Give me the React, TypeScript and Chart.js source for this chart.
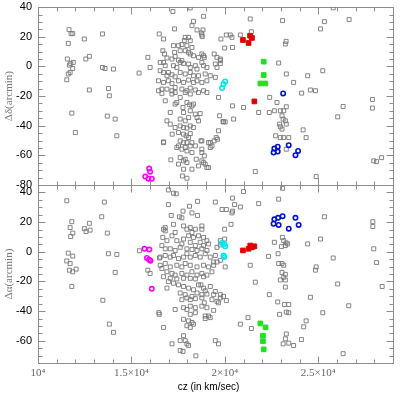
import React, { useEffect, useRef } from 'react';
import { Chart, registerables } from 'chart.js';

Chart.register(...registerables);

// ---- axis ticks / labels ----
const xTickValues = [10000, 15000, 20000, 25000];
const xTickLabels = ['10⁴', '1.5×10⁴', '2×10⁴', '2.5×10⁴'];
const topYTicks = [-80, -60, -40, -20, 0, 20, 40];
const bottomYTicks = [-60, -40, -20, 0, 20, 40];
const xTitle = 'cz (in km/sec)';

// ---- top panel (Δδ) ----
const topGray: [number, number][] = [
  [11660,24.8],[11770,22.1],[11860,22.1],[11620,15.5],[12480,18.5],[13450,21.9],[11570,5],[12560,5],[12750,6.8],[11750,2],[11890,2.7],[11680,0.9],[11860,-1.4],[11720,-4.1],[11620,-5.1],[11540,-9],[12750,-15.9],[13450,-0.7],[13590,-1.4],[14040,-1.8],[13770,-14.9],[13820,-19.8],[11810,-31.5],[12000,-44.6],[13710,-33.5],[14130,-35.5],[14220,-46.8],[15410,-4.5],[15880,6.1],[16000,-0.7],[16490,21.9],[16720,18.5],[17220,37],[17310,25.3],[18150,39.5],[16720,-50.9],[17110,-63],
  [18860,33.8],[18320,30.4],[18240,27.5],[18510,24.6],[18740,22.6],[18790,20.1],[17880,19.6],[18060,19.6],[17830,17.4],[18150,17.4],[19790,18.5],[17250,14],[17520,14],[17700,14.7],[17970,14],[18240,12.8],[16680,10.6],[16770,8.4],[17310,9.5],[17610,10.6],[17880,10.6],[18060,9.5],[18150,8.4],[18320,7.2],[18590,6.1],[18860,7.2],[19430,8.4],[19580,6.1],[19760,5],[16900,5.7],[17170,5],[17340,6.6],[17520,4.3],[17610,2.7],[17700,3.9],[17790,2],[16540,2.7],[16720,2.7],[16810,0.5],[17250,0.5],[17430,-0.7],[18060,1.6],[18150,-0.7],[18420,0.5],[18510,-1.8],[18770,2.7],[18860,0.5],[19040,-0.7],[19490,1.6],[19580,-0.7],[19760,2],
  [16540,-2.9],[16720,-4.1],[16980,-4.1],[16900,-6.3],[17170,-5.6],[17340,-7],[17610,-4.1],[17880,-5.1],[18150,-4.1],[18320,-6.3],[18590,-6.3],[18950,-5.1],[19220,-6.3],[19490,-7.4],[16450,-9.7],[16720,-10.8],[16980,-9.7],[17170,-11.5],[17520,-9.7],[17790,-10.8],[18060,-9.2],[18320,-10.8],[18510,-9.7],[18770,-10.8],[19040,-9.7],[16900,-15.3],[17170,-16.4],[17340,-14.2],[16450,-16.4],[16630,-15.3],[17700,-15.3],[17970,-16.4],[18150,-14.6],[18420,-15.9],[18590,-17.6],[18860,-16.4],[19040,-17.6],
  [16630,-18.2],[17170,-18.6],[17340,-17.6],[17880,-17.6],[18150,-18.6],[17610,-20.9],[19660,-20.9],[16810,-23.2],[17340,-25.4],[17430,-24.3],[17970,-24.3],[18110,-25.9],[18240,-26.6],[18320,-25.4],[17760,-27.7],[17080,-31.1],[17790,-31.1],[18150,-29.9],[18420,-32.2],[18680,-31.8],[19720,-33.3],[19900,-37.2],[16900,-36.7],[17080,-38.9],[17610,-35.5],[17880,-36.7],[18060,-34.5],[18510,-34.5],[18590,-36.7],[17340,-41.2],[17610,-40.1],[17790,-41.2],[17970,-41.6],[18150,-40.1],[18320,-41.2],[17180,-45.7],[19660,-43.4],[17520,-44.6],[17790,-45.7],[17930,-46.8],[18060,-48],[18150,-45.3],[16720,-51.4],[17610,-50.2],[17790,-51.4],[17970,-51.4],[18240,-51.4],[18770,-50.2],[19220,-51.4],[19430,-50.2],[19610,-49.1],[17520,-53.6],[17700,-55.8],[17880,-54.7],[18150,-53.6],[18420,-53.6],[17430,-54.7],[19310,-53.6],[17970,-57],[18240,-58.1],[18770,-55.8],[17610,-61.5],[17790,-63.7],[17970,-64.9],[17880,-62.6],[18470,-62.6],[18860,-64.9],[19130,-68.2],[18590,-67.1],[17520,-65.9],[17790,-69.3],[18240,-69.3],[17730,-73.9],[17970,-75.4],
  [18830,24.6],[18770,21.2],[20080,21.2],[20290,21.2],[20380,19.6],[20830,21.2],[21360,32],[21420,23.4],[23090,30.9],[25330,30.2],[25120,25.3],[26650,31.6],[25800,39.5],[23280,16.9],[23240,15.1],[19990,12.4],[20410,12.8],[18770,8.4],[18900,6.1],[19760,3.9],[22880,2.3],[23290,-5.1],[23680,-10.8],[24430,-6.3],[25240,-2.9],[24110,-18],[24580,-15.9],[24850,-16.4],[22400,-20.9],[22790,-24.3],[20410,-26.6],[21000,-27.7],[21810,-31.1],[22380,-31.1],[22650,-29.9],[22970,-29.9],[23150,-29.9],[23290,-27.2],[23060,-33.3],[23120,-35.5],[23240,-36.7],[20470,-35.5],[19930,-37.4],[20020,-37.4],[22930,-38.9],[22970,-40.7],[23060,-42.3],[23290,-38.9],[24190,-42.8],[22720,-46.8],[22970,-48],[23150,-48],[23420,-48],[24350,-48],[19540,-48],[19130,-51.4],[19220,-54.7],[18720,-50.2],[23290,-55.8],[18770,-58.1],[18900,-60.3],[18770,-63.7],[18950,-65.9],[19040,-68.2],[21630,-70.9],[24890,-74.3],[26040,-34],[26330,-27],[27900,-22.3],[27900,-28.1],[27970,-63.7],[28120,-64.2],[28390,-61.5],
];
const topMagenta: [number, number][] = [[15950,-68.9],[16000,-71.1],[15740,-74.3],[15910,-75.7],[16090,-75.7]];
const topCyan: [number, number][] = [[20020,-10.1],[19930,-11.9],[19850,-14.6]];
const topRed: [number, number][] = [[20970,17.8],[21270,15.8],[21350,20.7],[21450,19.2],[21580,-23.6]];
const topGreen: [number, number][] = [[22080,3.2],[22080,-5.8],[21900,-11.5],[22170,-11.5]];
const topBlue: [number, number][] = [[23120,-18.2],[22650,-55.4],[22830,-54.1],[22610,-58.1],[22830,-57.4],[23420,-53.1],[23920,-57],[23780,-59.9]];

// ---- bottom panel (Δα) ----
const bottomGray: [number, number][] = [
  [11540,34.4],[13550,33.5],[11810,20.3],[11720,16.3],[11860,12.6],[11750,10.3],[12480,15.6],[12570,13.6],[12750,19.2],[12790,14.6],[13410,23.6],[13710,12.6],[11620,-0.9],[11860,-2.9],[11720,-7.9],[11540,-6.2],[11680,-12.4],[11860,-13.5],[12040,-11.7],[11810,-23.4],[13770,-1.3],[14220,-1.8],[14130,-13.9],[13470,-32.7],[13820,-48.8],[14040,-54.3],[15430,0.7],[15880,-12.4],[16000,-14.6],[16470,-41.1],[16720,-51],[17170,-62.1],[16980,41.7],[17250,39.5],[17400,39.1],
  [18540,34],[19490,33.5],[16980,31.8],[17760,27.4],[18110,30.7],[18240,26.2],[18540,24.5],[17130,24.5],[17570,23.6],[17700,22.9],[16810,16.3],[16810,14.1],[16720,15.2],[17250,18.5],[17790,17.4],[17970,15.2],[18150,16.3],[18240,13],[18420,15.2],[17340,13],[17170,10.8],[18060,10.8],[18320,9.7],[18590,10.8],[18860,9.7],[19040,7.5],[16680,9.7],[16900,7.5],[17430,7.5],[17700,5.3],[17790,8.6],[18150,6.4],[18420,4.2],[18680,6.4],[18860,4.2],[19130,5.3],[16630,4.2],[16810,2],[17080,2],[17340,0.9],[17610,3],[17970,2],[18240,1.5],[18510,0.9],[18770,2],[19040,0.9],[19580,3],[16540,-3.6],[16810,-2.5],[17080,-3.6],[17250,-2.5],[17520,-4.6],[17790,-3.6],[17970,-1.3],[18150,-3.6],[18420,-2.5],[18680,-3.6],[18950,-1.3],[19220,-3.6],[19490,-2.5],[16540,-9.1],[16810,-7.9],[17080,-10.2],[17430,-9.1],[17700,-10.2],[17880,-7.9],[18150,-9.1],[18510,-10.2],[18860,-9.1],[19130,-10.2],[19400,-9.1],[19580,-6.9],[16900,-13.5],[17170,-14.6],[17340,-15.7],[17700,-14.6],[17970,-15.7],[18240,-13.5],[18510,-15.7],[18770,-14.6],[19040,-15.7],[19310,-13.5],[16720,-16.8],[17080,-17.9],[17430,-18.3],[17790,-17.9],[18150,-17.9],[18420,-18.3],
  [18860,-16.8],[17250,-21.2],[16980,-20.1],[17520,-22.3],[17790,-23.4],[18060,-24.5],[18320,-25.6],[18590,-22.3],[18860,-24.5],[19220,-23.4],[16900,-24.5],[19490,-26.8],[19760,-28.9],[19930,-30.1],[17610,-27.8],[17880,-28.9],[18240,-30.1],[18510,-27.8],[18770,-28.9],[19040,-28.5],[17700,-32.3],[17970,-31.1],[18150,-32.3],[18420,-31.6],[19310,-32.3],[19580,-33.4],[17340,-38.9],[17790,-37.7],[17970,-38.9],[18150,-36.7],[18420,-37.7],[18770,-36.7],[19040,-37.7],[19660,-34.4],[16490,-42.2],[18150,-42.2],[18420,-41.1],[18950,-43.3],[19220,-44.4],[17790,-45.5],[18060,-46.6],[18240,-47.7],[18320,-48.8],[17970,-49.9],[18150,-51],[17790,-56.6],[17880,-59.9],[17610,-59.9],[17970,-62.1],[18060,-63.2],[19490,-59.9],[19660,-62.1],[17610,-66.5],[17760,-67.2],[18450,-70.2],
  [21000,40.6],[23090,42.8],[20410,36.2],[20520,31.8],[20830,30.2],[21810,32.5],[22880,35.5],[19850,28.5],[20080,28.5],[20410,27.4],[20380,26.2],[25330,23.6],[27920,20.3],[27920,17],[20330,18.5],[19990,15.2],[18770,17.4],[18770,15.2],[23080,9.7],[23150,7.5],[23280,6],[23360,5.3],[22650,6.4],[23030,3.5],[23240,4.2],[24430,5.3],[25120,8.6],[25800,-4.2],[27970,2],[28120,-7.3],[19760,7.5],[19990,8.6],[19760,4.6],[22340,-3.1],[22850,-1.3],[22880,-7.9],[23060,-7.9],[23150,-9.1],[21360,-9.1],[19760,-5.8],[20020,-10.2],[24890,-10.2],[24850,-12.4],[23060,-13.9],[23240,-15.2],[23150,-17.2],[22970,-19],[23240,-19],[23240,-23.8],[21630,-20.5],[26040,-21.7],[28420,-23.4],[22380,-28.9],[24580,-30.7],[22830,-33.8],[23190,-35.6],[23420,-35.6],[26630,-36.4],[23290,-40.7],[23420,-41.1],[22930,-42.2],[25240,-41.1],[21240,-44.4],[20830,-48.8],[21420,-51.7],[24350,-46.6],[24220,-50.6],[23290,-55.4],[23240,-58.7],[24100,-59.2],[23120,-62.1],[23420,-61.6],[23680,-63.2],[26330,-68.7],[19400,-6.9],[18720,-22.3],[18950,-26.3],[19400,-28.9],[19760,-31.1],[20080,-32.9],[18770,-31.1],[18900,-34.4],[19400,-39.5],[18950,-45],[19130,-43.3],[16500,-4.2],[16630,-11.3],
];
const bottomMagenta: [number, number][] = [[15700,2],[15960,1.5],[15830,-4.2],[15950,-5.3],[16020,-6],[16090,-25]];
const bottomCyan: [number, number][] = [[19850,6],[19970,5.3],[20020,3.7],[19930,-2.5],[19970,-3.6]];
const bottomRed: [number, number][] = [[20970,0.9],[21270,2],[21360,4.2],[21450,3],[21580,3.7]];
const bottomGreen: [number, number][] = [[21900,-48.3],[22180,-51],[22040,-56.6],[22040,-60.3],[22080,-65.8]];
const bottomBlue: [number, number][] = [[22650,21.9],[22850,22.9],[23090,24],[23780,22.9],[22610,18.9],[22880,18.1],[23420,15.6],[23950,18.1]];

const toPts = (arr: [number, number][]) => arr.map(([x, y]) => ({ x, y }));

const FRAME = '#8c8c8c';

const framePlugin = {
  id: 'panelFrame',
  beforeDatasetsDraw(chart: any) {
    const ctx = chart.ctx;
    const xs = chart.scales.x;
    const { left, right } = chart.chartArea;
    ctx.save();
    ctx.strokeStyle = FRAME;
    ctx.lineWidth = 1;
    const line = (x1: number, y1: number, x2: number, y2: number) => {
      ctx.beginPath();
      ctx.moveTo(x1, y1);
      ctx.lineTo(x2, y2);
      ctx.stroke();
    };
    for (const id of ['yTop', 'yBot']) {
      const ys = chart.scales[id];
      const top = Math.round(ys.top) + 0.5;
      const bottom = Math.round(ys.bottom) + 0.5;
      const l = Math.round(left) + 0.5;
      const r = Math.round(right) + 0.5;
      ctx.strokeRect(l, top, r - l, bottom - top);
      for (let v = Math.ceil(ys.min / 5) * 5; v <= ys.max; v += 5) {
        const p = Math.round(ys.getPixelForValue(v)) + 0.5;
        const len = Math.abs(v % 20) === 0 ? 7 : 4;
        line(l, p, l + len, p);
        line(r, p, r - len, p);
      }
      for (let v = 10000; v <= xs.max; v += 1000) {
        const p = Math.round(xs.getPixelForValue(v)) + 0.5;
        const len = v % 5000 === 0 ? 7 : 4;
        line(p, top, p, top + len);
        line(p, bottom, p, bottom - len);
      }
    }
    ctx.restore();
  },
  afterDraw(chart: any) {
    // x-axis title, centred slightly left of the plot centre as in the original
    const ctx = chart.ctx;
    const xs = chart.scales.x;
    ctx.save();
    ctx.font = "10px 'Liberation Sans', Arial, sans-serif";
    ctx.fillStyle = '#000';
    ctx.textAlign = 'center';
    ctx.textBaseline = 'middle';
    ctx.fillText(xTitle, (xs.left + xs.right) / 2 - 7, xs.bottom - 6);
    ctx.restore();
  },
};

function makeSet(data: [number, number][], yAxisID: string, color: string, style: string, radius: number, filled: boolean, bw: number) {
  return {
    data: toPts(data),
    yAxisID,
    xAxisID: 'x',
    pointStyle: style,
    pointRadius: radius,
    pointHoverRadius: radius,
    pointBorderWidth: bw,
    borderColor: color,
    backgroundColor: filled ? color : 'rgba(0,0,0,0)',
    showLine: false,
  };
}

export default function App() {
  const ref = useRef<HTMLCanvasElement | null>(null);
  useEffect(() => {
    if (!ref.current) return;
    const yCommon = (ticks: number[], title: string) => ({
      type: 'linear',
      position: 'left',
      stack: 'panels',
      stackWeight: 1,
      grid: { display: false, drawTicks: false },
      border: { display: false },
      ticks: {
        padding: 6,
        color: '#000',
        font: { family: "'Liberation Sans', Arial, sans-serif", size: 11, lineHeight: 0.2 },
        autoSkip: false,
      },
      afterBuildTicks: (s: any) => {
        s.ticks = ticks.map((v) => ({ value: v }));
      },
      afterFit: (s: any) => {
        s.width = 38;
      },
      title: {
        display: true,
        text: title,
        color: '#777',
        font: { family: "'Liberation Serif', 'DejaVu Serif', serif", size: 11, lineHeight: 1.2 },
        padding: { top: 3, bottom: 0 },
      },
    });
    const chart = new Chart(ref.current, {
      type: 'scatter',
      data: {
        datasets: [
          makeSet(topMagenta, 'yTop', '#ff00ff', 'circle', 2.2, false, 1.6),
          makeSet(topCyan, 'yTop', '#00e8f0', 'circle', 2.2, false, 1.6),
          makeSet(topBlue, 'yTop', '#0010d0', 'circle', 2.2, false, 1.6),
          makeSet(topRed, 'yTop', '#e00000', 'rect', 3.3, true, 1),
          makeSet(topGreen, 'yTop', '#20e020', 'rect', 3.3, true, 1),
          makeSet(bottomMagenta, 'yBot', '#ff00ff', 'circle', 2.2, false, 1.6),
          makeSet(bottomCyan, 'yBot', '#00e8f0', 'circle', 2.2, false, 1.6),
          makeSet(bottomBlue, 'yBot', '#0010d0', 'circle', 2.2, false, 1.6),
          makeSet(bottomRed, 'yBot', '#e00000', 'rect', 3.3, true, 1),
          makeSet(bottomGreen, 'yBot', '#20e020', 'rect', 3.3, true, 1),
          makeSet(topGray, 'yTop', '#777777', 'rect', 2.8, false, 0.9),
          makeSet(bottomGray, 'yBot', '#777777', 'rect', 2.8, false, 0.9),
        ] as any,
      },
      options: {
        responsive: false,
        animation: false,
        devicePixelRatio: 1,
        layout: { padding: { top: 6, right: 7, left: 0, bottom: 0 } },
        plugins: { legend: { display: false }, tooltip: { enabled: false } },
        scales: {
          x: {
            type: 'linear',
            position: 'bottom',
            min: 10000,
            max: 29000,
            grid: { display: false, drawTicks: false },
            border: { display: false },
            ticks: {
              padding: 4,
              color: '#666',
              maxRotation: 0,
              autoSkip: false,
              font: { family: "'Liberation Serif', 'DejaVu Serif', serif", size: 11 },
              callback: (v: any) => {
                const i = xTickValues.indexOf(Number(v));
                return i >= 0 ? xTickLabels[i] : '';
              },
            },
            afterBuildTicks: (s: any) => {
              s.ticks = xTickValues.map((v) => ({ value: v }));
            },
            afterFit: (s: any) => {
              s.height = 30;
            },
            title: { display: false },
          },
          yTop: { ...yCommon(topYTicks, 'Δδ(arcmin)'), min: -80, max: 40, weight: 2 },
          yBot: { ...yCommon(bottomYTicks, 'Δα(arcmin)'), min: -75, max: 45, weight: 1 },
        } as any,
      },
      plugins: [framePlugin],
    });
    return () => chart.destroy();
  }, []);
  return (
    <canvas
      ref={ref}
      width={400}
      height={393}
      style={{ position: 'fixed', left: 0, top: 0, width: 400, height: 393, background: '#fff' }}
    />
  );
}
